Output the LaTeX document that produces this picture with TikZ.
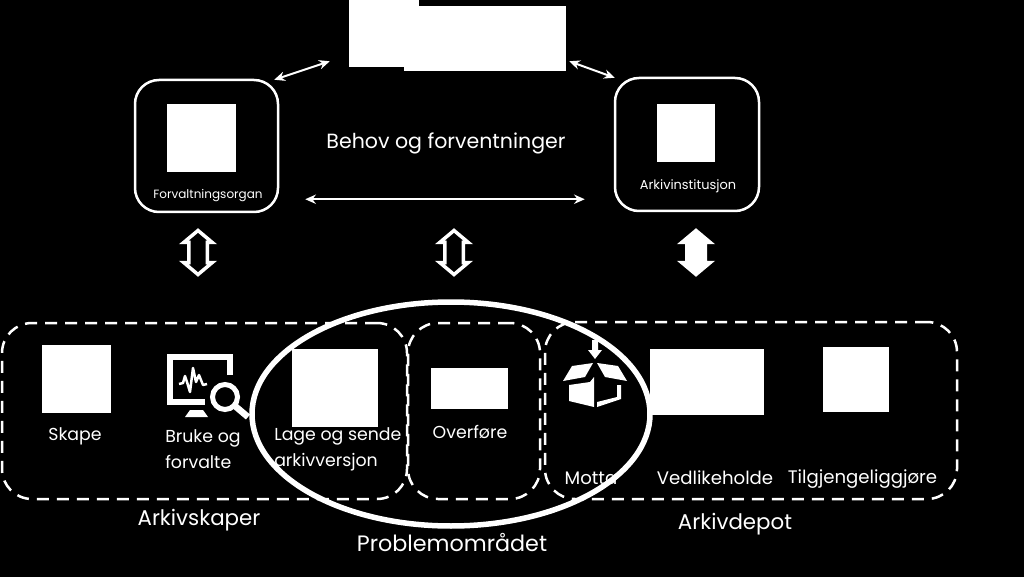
\documentclass[tikz,border=0pt]{standalone}
\usepackage{fontspec}
\setmainfont{Poppins}
\usetikzlibrary{arrows.meta, shapes.arrows, shapes.geometric}
\newcommand{\px}{0.75pt}
\tikzset{
  actor/.style={draw=white, line width=2.5*\px, rounded corners=24*\px, inner sep=0pt},
  imgbox/.style={fill=white, inner sep=0pt},
  stage/.style={draw=white, line width=2.5*\px, dash pattern=on 9pt off 6pt,
                rounded corners=30*\px, inner sep=0pt},
  link/.style={draw=white, line width=2*\px, {Stealth[length=8pt,width=7pt]}-{Stealth[length=8pt,width=7pt]}},
  updown/.style={double arrow, rotate=90, draw=white, line width=3.5*\px,
                 inner xsep=0pt, inner ysep=7.5*\px,
                 minimum height=44*\px, minimum width=26*\px,
                 double arrow head extend=5*\px, double arrow tip angle=100},
  label/.style={text=white, inner sep=0pt, font=\fontsize{13}{19.5}\selectfont},
  wide/.style={text=white, inner sep=0pt, font=\fontsize{13.6}{19.5}\selectfont},
  tiny/.style={text=white, inner sep=0pt, font=\fontsize{9}{11}\selectfont},
  big/.style={text=white, inner sep=0pt, font=\fontsize{16}{18}\selectfont},
}
\begin{document}
\begin{tikzpicture}[x=0.75pt, y=-0.75pt]
  \path[fill=black] (0,0) rectangle (1024,577);

  \node[imgbox, minimum width=70*\px, minimum height=67*\px] (topa) at (384,33.5) {};
  \node[imgbox, minimum width=162*\px, minimum height=65*\px] (topb) at (485,38.5) {};

  \node[actor, minimum width=143*\px, minimum height=132*\px] (forv) at (206.5,146) {};
  \node[actor, minimum width=144*\px, minimum height=133*\px] (arkiv) at (687,144.5) {};
  \node[imgbox, minimum width=69*\px, minimum height=68*\px] (forvimg) at (201.5,138) {};
  \node[imgbox, minimum width=58*\px, minimum height=58*\px] (arkivimg) at (686,133) {};
  \node[tiny] (forvtxt) at (208,196) {Forvaltningsorgan};
  \node[tiny, font=\fontsize{9.7}{11}\selectfont] (arkivtxt) at (688,186) {Arkivinstitusjon};
  \node[big, font=\fontsize{15.4}{18}\selectfont] (behov) at (446,143) {Behov og forventninger};

  \draw[link] ([shift={(-5,1)}]forv.north east) -- ([shift={(-19,-6)}]topa.south west);
  \draw[link] ([shift={(3,-10)}]topb.south east) -- ([shift={(1,1)}]arkiv.north west);
  \draw[link] ([shift={(26,-14)}]forv.south east) -- ([shift={(-29,-13)}]arkiv.south west);

  \node[updown] (pil1) at (198,252.5) {};
  \node[updown] (pil2) at (454,252.5) {};
  \node[updown, fill=white] (pil3) at (696,252.5) {};

  \node[stage, minimum width=405*\px, minimum height=176*\px] (skaper) at (204.5,411) {};
  \node[stage, minimum width=132*\px, minimum height=176*\px] (overf) at (474,411) {};
  \node[stage, minimum width=412*\px, minimum height=177*\px] (depot) at (751,410.5) {};

  \node[imgbox, minimum width=69*\px, minimum height=68*\px] (skape) at (76.5,379) {};
  \node[imgbox, minimum width=86*\px, minimum height=78*\px] (lage) at (335,388) {};
  \node[imgbox, minimum width=77*\px, minimum height=41*\px] (flytt) at (469.5,388.5) {};
  \node[imgbox, minimum width=114*\px, minimum height=66*\px] (vedl) at (707,382) {};
  \node[imgbox, minimum width=66*\px, minimum height=65*\px] (tilgj) at (856,379.5) {};

  % monitor
  \draw[white, line width=6*\px, line join=miter]
    (230,375) -- (230,357) -- (170,357) -- (170,402) -- (205,402);
  \fill[white] (185,417) -- (190,410) -- (203,410) -- (208,417) -- cycle;
  \draw[white, line width=2.5*\px, line join=round]
    (179,384) -- (183,383) -- (185,376) -- (187,382) -- (190,392) -- (193,368)
    -- (196,382) -- (199,375) -- (203,385) -- (207,384);
  \draw[white, line width=5*\px] (225,397) circle (12.5);
  \draw[white, line width=6.5*\px] (235,406) -- (248,417);

  % box
  \fill[white] (592,340) -- (598,340) -- (598,350) -- (602,350) -- (595,359) -- (588,350)
    -- (592,350) -- cycle;
  \fill[white] (563,381) -- (572,366) -- (593,363) -- (585,377) -- cycle;
  \fill[white] (597,363) -- (618,366) -- (627,381) -- (605,377) -- cycle;
  \fill[white] (569,385) -- (590,382) -- (594,377) -- (594,407) -- (569,401) -- cycle;
  \fill[white] (597,402) -- (617,397) -- (617,385) -- (621,385) -- (621,399) -- (597,407) -- cycle;

  \node[label] (skapetxt) at (75,436) {Skape};
  \node[label, align=left, anchor=west] (bruketxt) at (165,449) {Bruke og\\forvalte};
  \node[label, align=left, anchor=west] (lagetxt) at (274,449) {Lage og sende\\arkivversjon};
  \node[label] (flytttxt) at (470,432) {Overføre};
  \node[wide] (mottatxt) at (591,478) {Motta};
  \node[wide] (vedltxt) at (715,478) {Vedlikeholde};
  \node[wide] (tilgjtxt) at (862.5,479) {Tilgjengeliggjøre};

  \node[big] (skapertxt) at (199,520) {Arkivskaper};
  \node[big] (depottxt) at (735,524) {Arkivdepot};
  \node[big, font=\fontsize{16.7}{18}\selectfont] (problemtxt) at (452,543) {Problemområdet};

  \node[draw=white, line width=5.5*\px, ellipse, inner sep=0pt,
        minimum width=398*\px, minimum height=224*\px] (problem) at (451,414) {};
\end{tikzpicture}
\end{document}
